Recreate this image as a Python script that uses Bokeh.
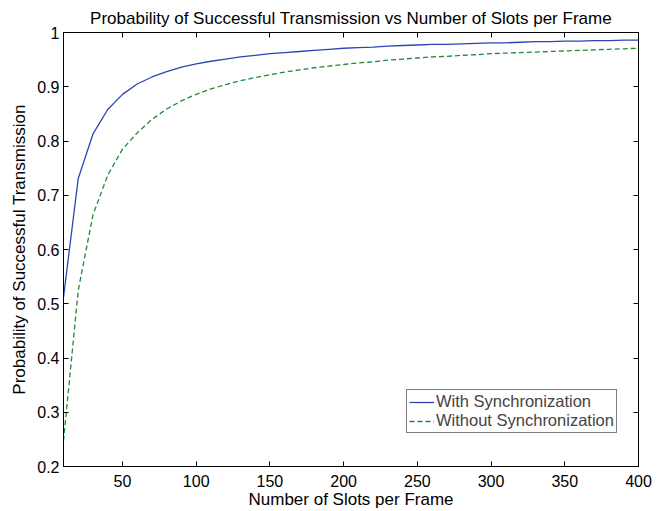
from bokeh.plotting import figure
from bokeh.models import (FixedTicker, LinearAxis, CustomJSTickFormatter, Range1d,
                          Legend, LegendItem, ColumnDataSource)
from bokeh.embed import file_html
from bokeh.resources import INLINE

# ---- data ----
slots = list(range(10, 401, 10))
with_sync = [0.512, 0.731, 0.813, 0.858, 0.886, 0.905, 0.918, 0.928, 0.936, 0.942,
             0.947, 0.951, 0.955, 0.958, 0.961, 0.963, 0.965, 0.967, 0.969, 0.971,
             0.972, 0.973, 0.975, 0.976, 0.977, 0.978, 0.978, 0.979, 0.980, 0.981,
             0.981, 0.982, 0.983, 0.983, 0.984, 0.984, 0.985, 0.985, 0.986, 0.986]
without_sync = [0.247, 0.525, 0.664, 0.737, 0.785, 0.815, 0.840, 0.859, 0.874, 0.886,
                0.896, 0.904, 0.911, 0.917, 0.922, 0.927, 0.931, 0.935, 0.938, 0.941,
                0.944, 0.946, 0.949, 0.951, 0.953, 0.955, 0.956, 0.958, 0.959, 0.961,
                0.962, 0.963, 0.964, 0.965, 0.966, 0.967, 0.968, 0.969, 0.970, 0.971]
x_ticks = [50, 100, 150, 200, 250, 300, 350, 400]
y_ticks = [0.2, 0.3, 0.4, 0.5, 0.6, 0.7, 0.8, 0.9, 1.0]
series_names = ["With Synchronization", "Without Synchronization"]

FONT = "Liberation Sans"

src = ColumnDataSource(dict(x=slots, a=with_sync, b=without_sync))

p = figure(width=662, height=511, output_backend="svg", toolbar_location=None,
           x_range=Range1d(10, 400), y_range=Range1d(0.2, 1.0),
           min_border_left=63, min_border_right=24, min_border_top=32,
           min_border_bottom=45, x_axis_location="below", y_axis_location="left")

p.title.text = "Probability of Successful Transmission vs Number of Slots per Frame"
p.title.text_font = FONT
p.title.text_font_size = "17px"
p.title.text_font_style = "normal"
p.title.text_color = "black"
p.title.align = "center"
p.title.offset = 0
p.title.standoff = 10

p.grid.visible = False
p.outline_line_color = "black"
p.outline_line_width = 1
p.background_fill_color = "white"
p.border_fill_color = "white"

fmt = CustomJSTickFormatter(code="return tick.toFixed(1).replace(/\\.0$/, '');")

xa = p.xaxis[0]
xa.ticker = FixedTicker(ticks=x_ticks)
xa.axis_label = "Number of Slots per Frame"
ya = p.yaxis[0]
ya.ticker = FixedTicker(ticks=y_ticks)
ya.formatter = fmt
ya.axis_label = "Probability of Successful Transmission"

for ax in (xa, ya):
    ax.major_tick_in = 5
    ax.major_tick_out = 0
    ax.minor_tick_line_color = None
    ax.axis_line_color = "black"
    ax.major_tick_line_color = "black"
    ax.major_label_text_font = FONT
    ax.major_label_text_font_size = "16px"
    ax.major_label_text_color = "black"
    ax.axis_label_text_font = FONT
    ax.axis_label_text_font_size = "17px"
    ax.axis_label_text_font_style = "normal"
    ax.axis_label_text_color = "black"
xa.major_label_standoff = 8
ya.major_label_standoff = 4
xa.axis_label_standoff = 0
ya.axis_label_standoff = 5

top = LinearAxis(ticker=FixedTicker(ticks=x_ticks), major_label_text_font_size="0px",
                 major_tick_in=5, major_tick_out=0, minor_tick_line_color=None,
                 major_label_text_color=None)
right = LinearAxis(ticker=FixedTicker(ticks=y_ticks), major_label_text_font_size="0px",
                   major_tick_in=5, major_tick_out=0, minor_tick_line_color=None,
                   major_label_text_color=None)
p.add_layout(top, "above")
p.add_layout(right, "right")

r1 = p.line("x", "a", source=src, line_color="#2a45b5", line_width=1.3)
r2 = p.line("x", "b", source=src, line_color="#1e8a38", line_width=1.3,
            line_dash="5 3")

legend = Legend(items=[LegendItem(label=series_names[0], renderers=[r1]),
                       LegendItem(label=series_names[1], renderers=[r2])],
                location=(343, 33))
legend.label_text_font = FONT
legend.label_text_font_size = "16.5px"
legend.border_line_color = "black"
legend.border_line_width = 1
legend.background_fill_alpha = 1
legend.glyph_width = 25
legend.glyph_height = 16
legend.label_standoff = 2
legend.padding = 2
legend.spacing = 0
legend.margin = 0
legend.label_height = 16
p.add_layout(legend, "center")

open("out.html", "w").write(file_html(p, INLINE))
